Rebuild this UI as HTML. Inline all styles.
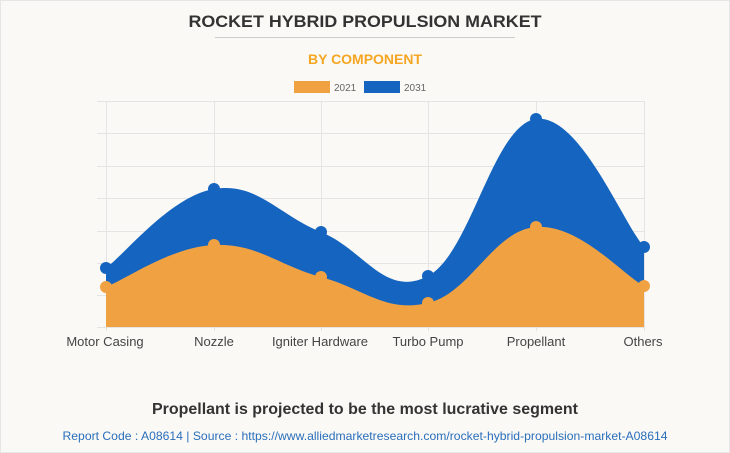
<!DOCTYPE html>
<html><head><meta charset="utf-8"><style>
html,body{margin:0;padding:0;background:#faf9f5;}
svg{display:block;font-family:"Liberation Sans",Arial,sans-serif;}
</style></head><body>
<svg width="730" height="453" viewBox="0 0 730 453" xmlns="http://www.w3.org/2000/svg">
<rect x="0.5" y="0.5" width="729" height="452" fill="#faf9f5" stroke="#e6e6e6"/>
<text x="365" y="27" text-anchor="middle" font-size="17" font-weight="bold" fill="#333" textLength="353" lengthAdjust="spacingAndGlyphs">ROCKET HYBRID PROPULSION MARKET</text>
<line x1="215" y1="37.5" x2="515" y2="37.5" stroke="#ccc" stroke-width="1"/>
<text x="365" y="64" text-anchor="middle" font-size="14" font-weight="bold" fill="#f5a623" textLength="114" lengthAdjust="spacingAndGlyphs">BY COMPONENT</text>
<rect x="294" y="81" width="36" height="12" fill="#f0a243"/>
<text x="334" y="91" font-size="10" fill="#666">2021</text>
<rect x="364" y="81" width="36" height="12" fill="#1565c0"/>
<text x="404" y="91" font-size="10" fill="#666">2031</text>
<g stroke="#e4e4e4" stroke-width="1">
<line x1="97" y1="101.5" x2="644" y2="101.5"/><line x1="97" y1="133.5" x2="644" y2="133.5"/>
<line x1="97" y1="166.5" x2="644" y2="166.5"/><line x1="97" y1="198.5" x2="644" y2="198.5"/>
<line x1="97" y1="231.5" x2="644" y2="231.5"/><line x1="97" y1="263.5" x2="644" y2="263.5"/>
<line x1="97" y1="295.5" x2="644" y2="295.5"/><line x1="97" y1="327.5" x2="644" y2="327.5"/>
<line x1="106.5" y1="101" x2="106.5" y2="331"/><line x1="214.5" y1="101" x2="214.5" y2="331"/>
<line x1="321.5" y1="101" x2="321.5" y2="331"/><line x1="428.5" y1="101" x2="428.5" y2="331"/>
<line x1="536.5" y1="101" x2="536.5" y2="331"/><line x1="644.5" y1="101" x2="644.5" y2="331"/>
</g>
<path d="M106,268 C127,252 171,196.2 214,189 C257,181.8 278,214.6 321,232 C364,249.4 385,298.6 428,276 C471,253.4 493,124.8 536,119 C579,113.2 622,221 644,247 L644,327 L106,327 Z" fill="#1565c0"/>
<g fill="#1565c0"><circle cx="106" cy="268" r="6"/><circle cx="214" cy="189" r="6"/><circle cx="321" cy="232" r="6"/><circle cx="428" cy="276" r="6"/><circle cx="536" cy="119" r="6"/><circle cx="644" cy="247" r="6"/></g>
<path d="M106,287 C127,278.6 171,247 214,245 C257,243 278,265.4 321,277 C364,288.6 385,313 428,303 C471,293 493,230.4 536,227 C579,223.6 622,274.2 644,286 L644,327 L106,327 Z" fill="#f0a243"/>
<g fill="#f0a243"><circle cx="106" cy="287" r="6"/><circle cx="214" cy="245" r="6"/><circle cx="321" cy="277" r="6"/><circle cx="428" cy="303" r="6"/><circle cx="536" cy="227" r="6"/><circle cx="644" cy="286" r="6"/></g>
<g font-size="13" fill="#444" text-anchor="middle">
<text x="105" y="346">Motor Casing</text><text x="214" y="346">Nozzle</text><text x="320" y="346">Igniter Hardware</text>
<text x="428" y="346">Turbo Pump</text><text x="536" y="346">Propellant</text><text x="643" y="346">Others</text>
</g>
<text x="365" y="414" text-anchor="middle" font-size="16" font-weight="bold" fill="#333" textLength="426" lengthAdjust="spacingAndGlyphs">Propellant is projected to be the most lucrative segment</text>
<text x="365" y="440" text-anchor="middle" font-size="12" fill="#2a6ebb" textLength="605" lengthAdjust="spacingAndGlyphs">Report Code : A08614  |  Source : https://www.alliedmarketresearch.com/rocket-hybrid-propulsion-market-A08614</text>
</svg>
</body></html>
